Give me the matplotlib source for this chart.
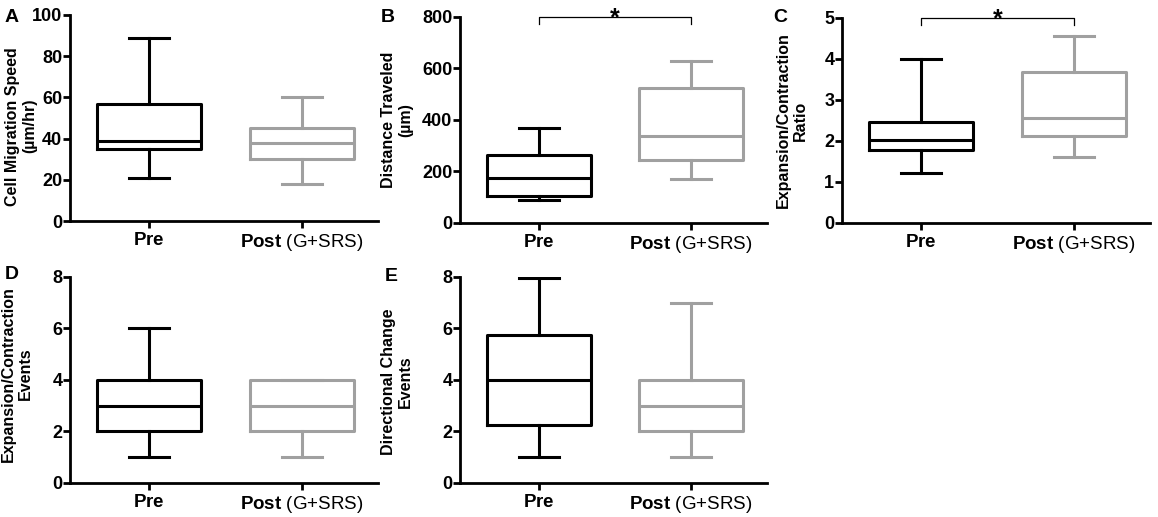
import matplotlib
matplotlib.use('Agg')
import matplotlib.pyplot as plt

plt.rcParams['font.family'] = ['Liberation Sans', 'DejaVu Sans']
plt.rcParams['mathtext.fontset'] = 'custom'
plt.rcParams['mathtext.rm'] = 'Liberation Sans'
plt.rcParams['mathtext.bf'] = 'Liberation Sans:bold'

groups = ['Pre', 'Post (G+SRS)']
tick_labels = [r'$\mathbf{Pre}$', r'$\mathbf{Post}$ (G+SRS)']

# (whislo, q1, med, q3, whishi) per group
speed_pre = (21, 35, 39, 57, 89)
speed_post = (18, 30, 38, 45, 60)
distance_pre = (88, 105, 175, 265, 367)
distance_post = (172, 245, 338, 525, 628)
ratio_pre = (1.23, 1.77, 2.03, 2.47, 4.0)
ratio_post = (1.6, 2.12, 2.55, 3.67, 4.57)
ec_events_pre = (1, 2, 3, 4, 6)
ec_events_post = (1, 2, 3, 4, 4)
dir_events_pre = (1, 2.25, 4, 5.75, 7.95)
dir_events_post = (1, 2, 3, 4, 7)

panels = [
    ('A', 'Cell Migration Speed\n(µm/hr)', speed_pre, speed_post, [0, 20, 40, 60, 80, 100], False),
    ('B', 'Distance Traveled\n(µm)', distance_pre, distance_post, [0, 200, 400, 600, 800], True),
    ('C', 'Expansion/Contraction\nRatio', ratio_pre, ratio_post, [0, 1, 2, 3, 4, 5], True),
    ('D', 'Expansion/Contraction\nEvents', ec_events_pre, ec_events_post, [0, 2, 4, 6, 8], False),
    ('E', 'Directional Change\nEvents', dir_events_pre, dir_events_post, [0, 2, 4, 6, 8], False),
]

# axes rectangles in figure fraction
rects = [
    [0.0604, 0.5725, 0.266, 0.3985],
    [0.3972, 0.5687, 0.265, 0.3985],
    [0.7271, 0.5687, 0.266, 0.3966],
    [0.0604, 0.0658, 0.266, 0.3985],
    [0.3972, 0.0658, 0.265, 0.3985],
]
# panel letter positions (figure fraction, left / top)
letter_pos = [(0.004, 0.982), (0.329, 0.982), (0.668, 0.982),
              (0.004, 0.486), (0.332, 0.482)]
# y-label anchor (axes fraction)
label_pos = [(-0.107, 0.46), (-0.153, 0.5), (-0.110, 0.5),
             (-0.12, 0.53), (-0.153, 0.49)]

colors = ['#000000', '#a0a0a0']


def make_stats(values, label):
    lo, q1, med, q3, hi = values
    return dict(whislo=lo, q1=q1, med=med, q3=q3, whishi=hi, fliers=[], label=label)


fig = plt.figure(figsize=(11.58, 5.17), dpi=100)

for (letter, ylabel, pre, post, yticks, sig), rect, lpos, ylpos in zip(
        panels, rects, letter_pos, label_pos):
    ax = fig.add_axes(rect)
    for pos, vals, col, name in zip([1, 2], [pre, post], colors, groups):
        props = dict(color=col, linewidth=2.2)
        ax.bxp([make_stats(vals, name)], positions=[pos], widths=0.68,
               showfliers=False, capwidths=0.26,
               boxprops=props, whiskerprops=props, capprops=props,
               medianprops=props, manage_ticks=False)
    ax.set_xlim(0.48, 2.5)
    ax.set_ylim(0, yticks[-1])
    ax.set_yticks(yticks)
    ax.set_xticks([1, 2])
    ax.set_xticklabels(tick_labels, fontsize=13.5)
    for lab in ax.get_yticklabels():
        lab.set_fontweight('bold')
        lab.set_fontsize(13)
    ax.spines['top'].set_visible(False)
    ax.spines['right'].set_visible(False)
    ax.spines['left'].set_linewidth(2)
    ax.spines['bottom'].set_linewidth(2)
    ax.tick_params(width=2, length=5)
    ax.tick_params(axis='y', pad=0.5)
    ax.tick_params(axis='x', pad=3)
    ax.set_ylabel(ylabel, fontsize=11.5, fontweight='bold', linespacing=1.2)
    ax.yaxis.set_label_coords(*ylpos)
    fig.text(lpos[0], lpos[1], letter, fontsize=14, fontweight='bold',
             va='top', ha='left')
    if sig:
        top = yticks[-1]
        drop = top * 0.035
        ax.plot([1, 1, 2, 2], [top - drop, top, top, top - drop], color='black',
                linewidth=0.9, clip_on=False)
        ax.annotate('*', xy=(1.5, top), xytext=(0, -6), textcoords='offset points',
                    ha='center', va='baseline', fontsize=18, fontweight='bold')

fig.savefig('out.png', dpi=100)
